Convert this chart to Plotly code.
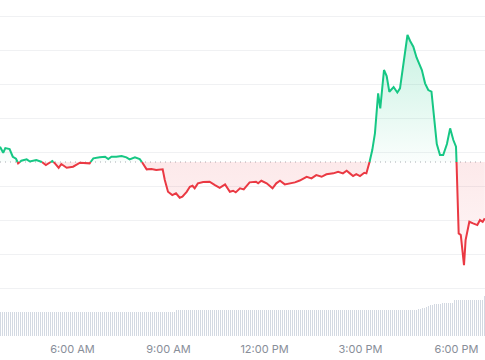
import plotly.graph_objects as go
import pandas as pd

DATE = "2024-05-14"

# price readings (time of day, price)
price_times = [
    "03:44", "03:50", "03:54", "04:02", "04:08", "04:14", "04:18", "04:24", "04:34", "04:40",
    "04:52", "05:02", "05:10", "05:22", "05:27", "05:34", "05:39", "05:49", "06:01", "06:14",
    "06:23", "06:32", "06:39", "06:51", "07:01", "07:07", "07:13", "07:22", "07:32", "07:41",
    "07:47", "07:57", "08:06", "08:12", "08:19", "08:28", "08:37", "08:49", "08:53", "08:59",
    "09:07", "09:14", "09:21", "09:26", "09:34", "09:40", "09:45", "09:49", "09:55", "10:05",
    "10:17", "10:27", "10:36", "10:46", "10:55", "11:01", "11:06", "11:14", "11:21", "11:32",
    "11:44", "11:48", "11:54", "12:04", "12:15", "12:22", "12:29", "12:38", "12:47", "12:57",
    "13:06", "13:19", "13:28", "13:37", "13:47", "13:56", "14:09", "14:18", "14:27", "14:34",
    "14:40", "14:46", "14:52", "14:59", "15:07", "15:11", "15:17", "15:22", "15:27", "15:33",
    "15:37", "15:44", "15:49", "15:54", "16:02", "16:09", "16:14", "16:21", "16:28", "16:33",
    "16:39", "16:45", "16:55", "17:01", "17:07", "17:13", "17:17", "17:23", "17:29", "17:35",
    "17:42", "17:48", "17:54", "17:59", "18:00", "18:02", "18:04", "18:08", "18:14", "18:17",
    "18:24", "18:31", "18:39", "18:44", "18:49", "18:53",
]
prices = [
    1.00167, 0.99991, 1.00129, 1.00100, 0.99874, 0.99815, 0.99680, 0.99757, 0.99798, 0.99733,
    0.99777, 0.99727, 0.99630, 0.99748, 0.99680, 0.99551, 0.99660, 0.99551, 0.99581, 0.99698,
    0.99680, 0.99680, 0.99827, 0.99856, 0.99874, 0.99806, 0.99874, 0.99874, 0.99894, 0.99856,
    0.99798, 0.99856, 0.99806, 0.99680, 0.99504, 0.99513, 0.99484, 0.99504, 0.99191, 0.98847,
    0.98751, 0.98801, 0.98672, 0.98701, 0.98847, 0.98994, 0.99023, 0.98947, 0.99094, 0.99132,
    0.99141, 0.99044, 0.98965, 0.99064, 0.98847, 0.98877, 0.98830, 0.98947, 0.98918, 0.99123,
    0.99141, 0.99094, 0.99170, 0.99094, 0.98947, 0.99094, 0.99170, 0.99064, 0.99094, 0.99123,
    0.99176, 0.99287, 0.99240, 0.99337, 0.99287, 0.99358, 0.99387, 0.99434, 0.99387, 0.99463,
    0.99387, 0.99308, 0.99367, 0.99308, 0.99405, 0.99387, 0.99727, 1.00070, 1.00560, 1.01733,
    1.01293, 1.02417, 1.02241, 1.01780, 1.01918, 1.01757, 1.01880, 1.02613, 1.03443, 1.03267,
    1.03100, 1.02783, 1.02417, 1.02026, 1.01830, 1.01780, 1.01147, 1.00246, 0.99924, 0.99924,
    1.00246, 1.00707, 1.00364, 1.00167, 0.99727, 0.98801, 0.97627, 0.97578, 0.96698, 0.97431,
    0.97968, 0.97921, 0.97871, 0.98018, 0.97968, 0.98067,
]
open_price = 0.99720

# volume bars, one every 225 s starting 03:44:56
vol_start = "03:44:56"
vol_step_s = 225
volumes = [
    24, 24, 24, 24, 24, 24, 24, 24, 24, 24, 24, 24, 24, 24, 24, 24,
    24, 24, 24, 24, 24, 24, 24, 24, 24, 24, 24, 24, 24, 24, 24, 24,
    24, 24, 24, 24, 24, 24, 24, 24, 24, 24, 24, 24, 24, 24, 24, 24,
    24, 24, 24, 24, 24, 24, 24, 24, 24, 24, 24, 24, 24, 24, 24, 24,
    24, 24, 24, 24, 24, 24, 24, 24, 24, 24, 24, 24, 24, 24, 24, 24,
    24, 24, 24, 24, 24, 24, 24, 24, 26, 26, 26, 26, 26, 26, 26, 26,
    26, 26, 26, 26, 26, 26, 26, 26, 26, 26, 26, 26, 26, 26, 26, 26,
    26, 26, 26, 26, 26, 26, 26, 26, 26, 26, 26, 26, 26, 26, 26, 26,
    26, 26, 26, 26, 26, 26, 26, 26, 26, 26, 26, 26, 26, 26, 26, 26,
    26, 26, 26, 26, 26, 26, 26, 26, 26, 26, 26, 26, 26, 26, 26, 26,
    26, 26, 26, 26, 26, 26, 26, 26, 26, 26, 26, 26, 26, 26, 26, 26,
    26, 26, 26, 26, 26, 26, 26, 26, 26, 26, 26, 26, 26, 26, 26, 26,
    26, 26, 26, 26, 26, 26, 26, 26, 26, 26, 26, 26, 26, 26, 26, 26,
    26.5, 27, 27.5, 28, 28.5, 29.5, 30.5, 31, 31.5,
    32, 32, 32.5, 32.5, 33, 33, 33, 33, 33, 33,
    36, 36, 36, 36, 36, 36, 36, 36, 36, 36, 36, 36, 36, 36, 36,
    40, 40, 40, 40, 40, 40, 40, 40, 40, 40,
    43, 43, 43, 45, 45, 45,
    47, 47, 47, 47, 47, 47, 47, 47,
]

x_range = ["03:44:00", "18:53:22.5"]
x_tick_vals = ["06:00", "09:00", "12:00", "15:00", "18:00"]
x_tick_text = ["6:00 AM", "9:00 AM", "12:00 PM", "3:00 PM", "6:00 PM"]
grid_vals = [0.96, 0.97, 0.98, 0.99, 1.00, 1.01, 1.02, 1.03, 1.04]
y_range = [0.94619, 1.04469]
vol_range = [0, 336]

GREEN = "#16c784"
RED = "#ea3943"


def ts(s):
    return pd.Timestamp(f"{DATE} {s}")


t = [ts(s) for s in price_times]

# insert baseline crossing points so the line can switch colour exactly there
xs, ys = [], []
for i, v in enumerate(prices):
    if i > 0:
        v0 = prices[i - 1]
        if (v0 - open_price) * (v - open_price) < 0:
            f = (open_price - v0) / (v - v0)
            xs.append(t[i - 1] + (t[i] - t[i - 1]) * f)
            ys.append(open_price)
    xs.append(t[i])
    ys.append(v)

base = [open_price] * len(xs)
y_up = [max(v, open_price) for v in ys]
y_dn = [min(v, open_price) for v in ys]
line_up = [v if v >= open_price else None for v in ys]
line_dn = [v if v <= open_price else None for v in ys]

vol_x = pd.date_range(ts(vol_start), periods=len(volumes), freq=f"{vol_step_s}s")

fig = go.Figure()

fig.add_trace(go.Bar(
    x=vol_x, y=volumes, yaxis="y2", marker=dict(color="#d3d9e2", line=dict(width=0)),
    width=85000, hoverinfo="skip",
))

fig.add_trace(go.Scatter(x=xs, y=base, mode="lines", line=dict(width=0), hoverinfo="skip"))
fig.add_trace(go.Scatter(
    x=xs, y=y_up, mode="lines", line=dict(width=0), fill="tonexty",
    fillgradient=dict(type="vertical", start=open_price, stop=y_range[1],
                      colorscale=[[0, "rgba(22,199,132,0.02)"], [1, "rgba(22,199,132,0.30)"]]),
    hoverinfo="skip",
))
fig.add_trace(go.Scatter(x=xs, y=base, mode="lines", line=dict(width=0), hoverinfo="skip"))
fig.add_trace(go.Scatter(
    x=xs, y=y_dn, mode="lines", line=dict(width=0), fill="tonexty",
    fillgradient=dict(type="vertical", start=y_range[0], stop=open_price,
                      colorscale=[[0, "rgba(234,57,67,0.0)"], [1, "rgba(234,57,67,0.11)"]]),
    hoverinfo="skip",
))

fig.add_shape(type="line", xref="paper", x0=0, x1=1, yref="y", y0=open_price, y1=open_price,
              line=dict(color="#a9adb3", width=1, dash="1px,4px"), layer="below")

fig.add_trace(go.Scatter(x=xs, y=line_dn, mode="lines", line=dict(color=RED, width=2),
                         connectgaps=False))
fig.add_trace(go.Scatter(x=xs, y=line_up, mode="lines", line=dict(color=GREEN, width=2),
                         connectgaps=False))

fig.update_layout(
    width=485, height=360,
    margin=dict(l=0, r=0, t=0, b=24, autoexpand=False),
    paper_bgcolor="white", plot_bgcolor="white",
    showlegend=False,
    font=dict(family="Inter, Roboto, sans-serif", size=11, color="#888e99"),
    xaxis=dict(
        type="date", range=[ts(x_range[0]), ts(x_range[1])],
        tickvals=[ts(s) for s in x_tick_vals], ticktext=x_tick_text,
        showgrid=False, zeroline=False, showline=False, ticks="",
        ticklabelstandoff=5,
    ),
    yaxis=dict(
        range=y_range, tickvals=grid_vals, showticklabels=False,
        showgrid=True, gridcolor="#f0f1f3", gridwidth=1, zeroline=False, showline=False,
    ),
    yaxis2=dict(range=vol_range, overlaying="y", visible=False),
    bargap=0,
)

fig.write_html("out.html", config={"displayModeBar": False},
               post_script="document.body.style.margin='0px';")
